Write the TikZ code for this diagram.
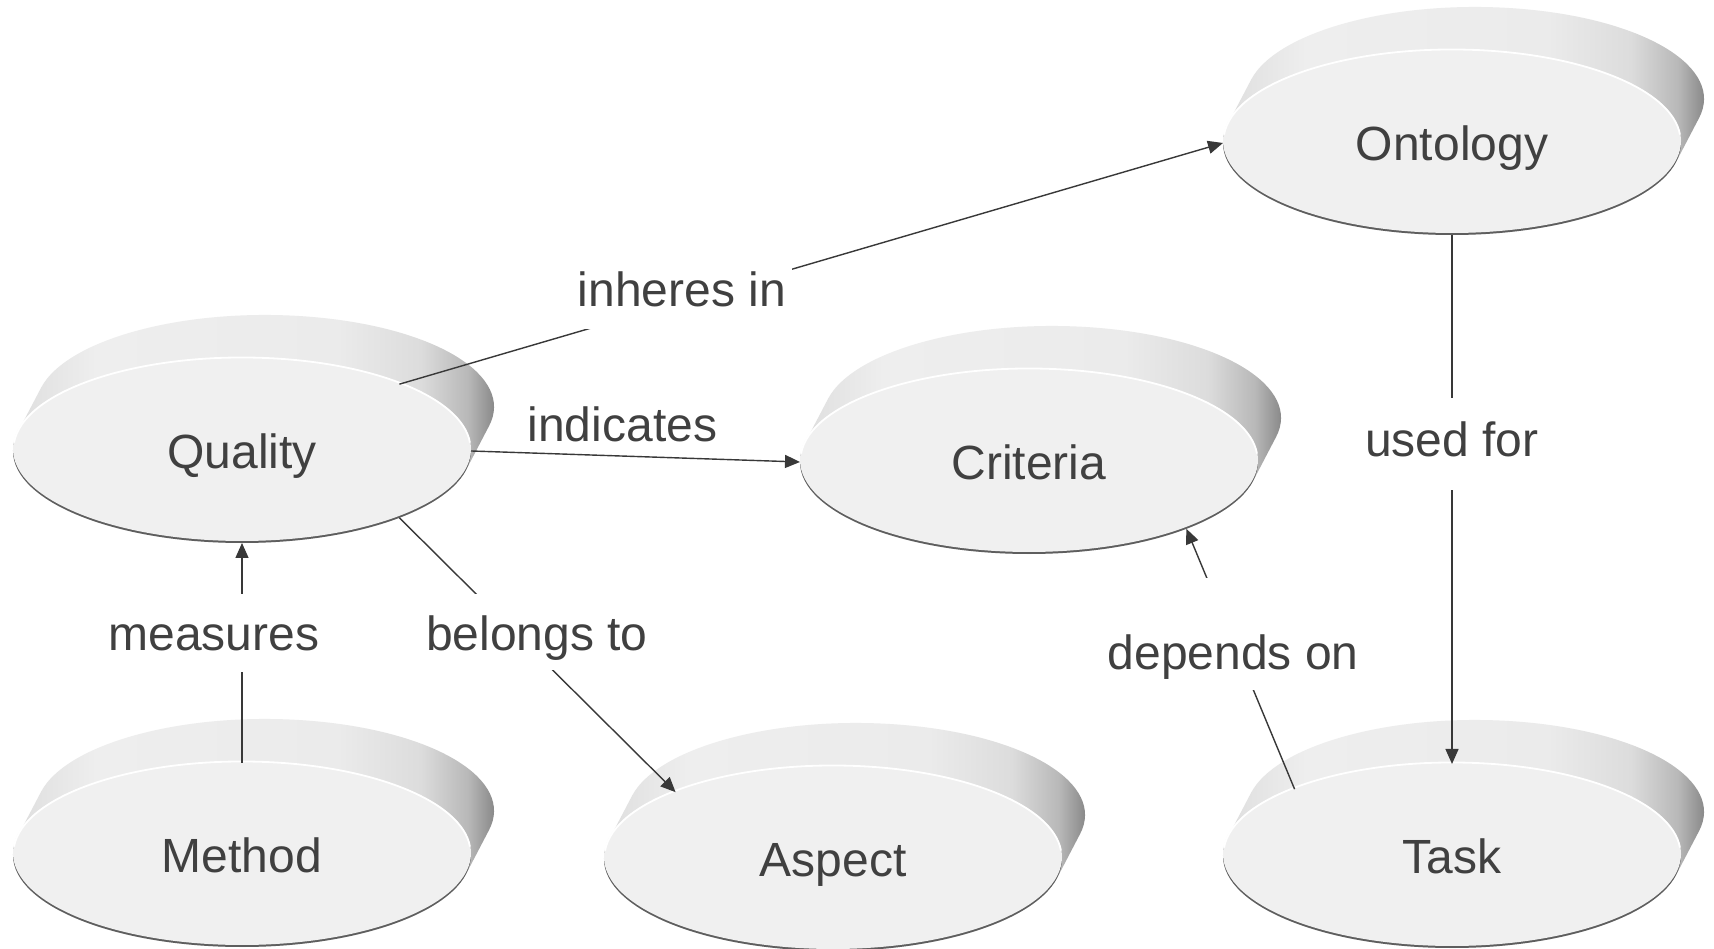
\documentclass[tikz,border=0pt]{standalone}
\usepackage{fontspec}
\setmainfont{Liberation Sans}
\usetikzlibrary{shapes.geometric,arrows.meta}
\definecolor{facegray}{HTML}{F0F0F0}
\definecolor{rimgray}{HTML}{5E5E5E}
\definecolor{txtgray}{HTML}{404040}
\definecolor{linegray}{HTML}{383838}
\definecolor{sideA}{HTML}{CCCCCC}
\definecolor{sideB}{HTML}{E2E2E2}
\definecolor{sideC}{HTML}{EEEEEE}
\definecolor{sideD}{HTML}{EBEBEB}
\definecolor{sideE}{HTML}{DCDCDC}
\definecolor{sideF}{HTML}{B8B8B8}
\definecolor{sideG}{HTML}{808080}
\definecolor{sideH}{HTML}{4A4A4A}
\pgfdeclarehorizontalshading{discside}{100bp}{color(0bp)=(sideA); color(25bp)=(sideA); color(29bp)=(sideB); color(35bp)=(sideC); color(58bp)=(sideD); color(66bp)=(sideE); color(70.5bp)=(sideF); color(73.5bp)=(sideG); color(75bp)=(sideH); color(100bp)=(sideH)}
\newcommand\bigfont{\fontsize{48}{58}\selectfont}
\tikzset{
  disc/.style={ellipse, minimum width=458pt, minimum height=184pt, inner sep=0pt, outer sep=0pt, text=txtgray, font=\bigfont, text height=35pt, text depth=0pt},
  lbl/.style={text=txtgray, font=\bigfont, fill=white, inner xsep=6pt, inner ysep=8pt, text height=36pt, text depth=12pt},
  rel/.style={draw=linegray, line width=1.4pt, -{Triangle[length=15pt,width=13pt]}},
  rimlight/.style={draw=white, line width=1.8pt},
}
\newcommand\discnode[4]{%
  \shade[shading=discside] ({#2-224.1},{#3+18.9}) arc[start angle=168.14, end angle=348.14, x radius=229pt, y radius=92pt] -- ({#2+247.1},{#3+25.1}) arc[start angle=-11.86, end angle=168.14, x radius=229pt, y radius=92pt] -- cycle;
  \fill[rimgray] (#2,#3) ellipse[x radius=229pt, y radius=92pt];
  \fill[facegray] (#2,{#3+2}) ellipse[x radius=229pt, y radius=92pt];
  \draw[rimlight] ({#2+228.5*cos(176)},{#3+2+91.5*sin(176)}) arc[start angle=176, end angle=4, x radius=228.5pt, y radius=91.5pt];
  \node[disc] (#1) at (#2,#3) {#4};
}
\begin{document}
\begin{tikzpicture}[x=1pt,y=1pt]
\fill[white] (0,0) rectangle (1714,949);
\useasboundingbox (0,0) rectangle (1714,949);

\discnode{Ontology}{1452}{806}{Ontology}
\discnode{Quality}{242}{498}{Quality}
\discnode{Criteria}{1029}{487}{Criteria}
\discnode{Method}{242}{94}{Method}
\discnode{Aspect}{833}{90}{Aspect}
\discnode{Task}{1452}{93}{Task}

\draw[rel] (Quality.23) -- node[lbl, pos=0.343, yshift=7pt, inner ysep=11pt]{inheres in} (Ontology.west);
\draw[rel] (Quality.east) -- node[lbl, fill=none, pos=0.46, yshift=27pt]{indicates} (Criteria.west);
\draw[rel] (Quality.-23) -- node[lbl, pos=0.418, xshift=22pt, text height=48pt]{belongs to} (Aspect.157);
\draw[rel] (Method.north) -- node[lbl, pos=0.591, xshift=-28pt, text height=48pt, inner ysep=9pt]{measures} (Quality.south);
\draw[rel] (Ontology.south) -- node[lbl, pos=0.396, inner ysep=22pt]{used for} (Task.north);
\draw[rel] (Task.157) -- node[lbl, pos=0.596, xshift=3pt, text height=84pt]{depends on} (Criteria.-23);
\end{tikzpicture}
\end{document}
